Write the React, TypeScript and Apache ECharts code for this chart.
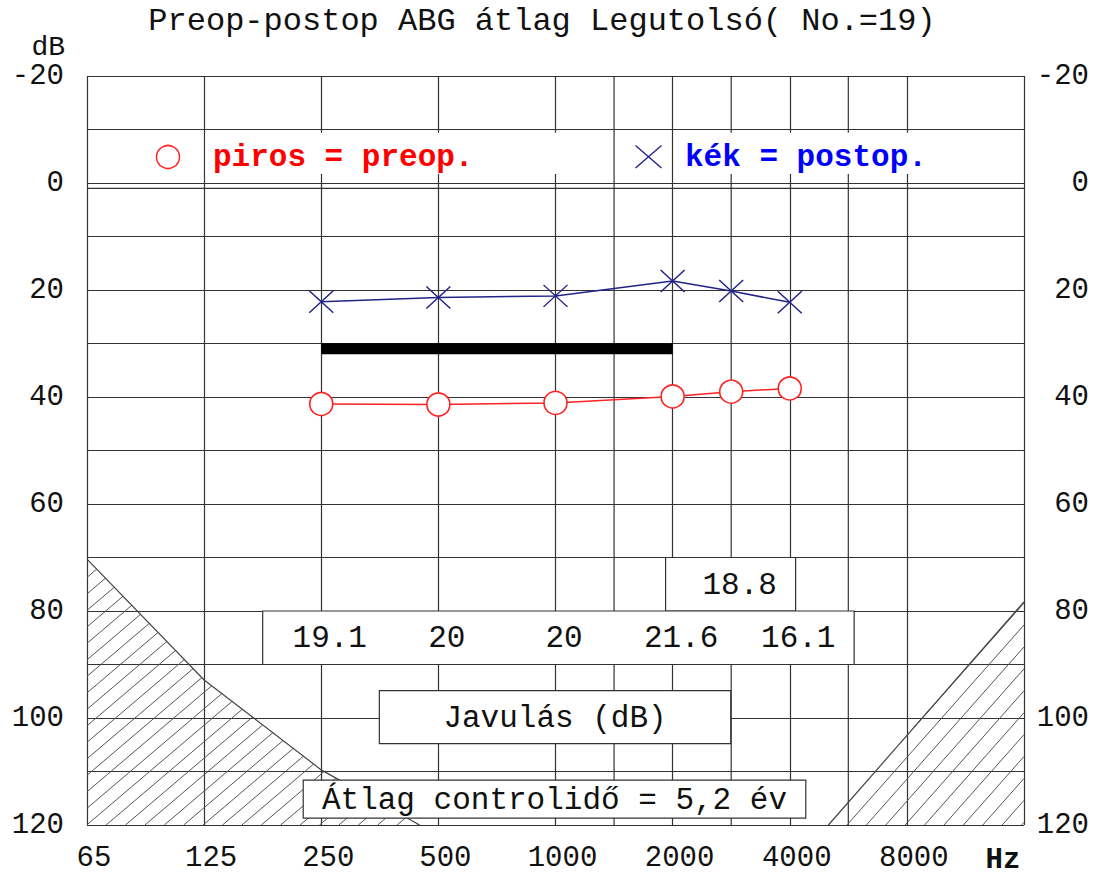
import React, { useEffect, useRef } from "react";
import * as echarts from "echarts";

// ---------- data ----------
const titleText = "Preop-postop ABG átlag Legutolsó( No.=19)";
const freqTickLabels = ["65", "125", "250", "500", "1000", "2000", "4000", "8000", ""];
const testFreqs = [250, 500, 1000, 2000, 3000, 4000];
const preopDb = [41.3, 41.4, 41.1, 39.9, 39.0, 38.4];
const postopDb = [22.2, 21.4, 21.1, 18.3, 20.2, 22.3];
const improvementDb = ["19.1", "20", "20", "21.6", "18.8", "16.1"];
const abgBarFreqs = [250, 2000];
const abgBarDb = 31;
const noteTexts = ["Javulás (dB)", "Átlag controlidő = 5,2 év"];
const legendTexts = ["piros = preop.", "kék = postop."];

// audiogram frequency -> axis position (octave steps, half-octaves in between)
const FREQ_POS: Record<number, number> = {
  65: 0, 125: 1, 250: 2, 500: 3, 1000: 4, 1500: 4.5, 2000: 5, 3000: 5.5,
  4000: 6, 6000: 6.5, 8000: 7, 16000: 8,
};

// ---------- layout / style constants ----------
const FONT = '"Liberation Mono", "DejaVu Sans Mono", monospace';
const GRID_COLOR = "#333";
const RED = "#ff2222";
const NAVY = "#23238a";

const extraLines = [
  [FREQ_POS[1500], -20, FREQ_POS[1500], 120],
  [FREQ_POS[3000], -20, FREQ_POS[3000], 120],
  [FREQ_POS[6000], -20, FREQ_POS[6000], 120],
  [0, 1, 8, 1],
];

const hatchPolys = [
  { pts: [[0, 70.3], [1, 92.9], [2, 109.7], [2.84, 120], [0, 120]], edge: [0, 1, 2, 3], slope: 0.85, x0: 86.7 },
  { pts: [[8, 78.3], [8, 120], [6.33, 120]], edge: [0, 2], slope: 1.13, x0: 847 },
];

const boxDefs = [
  { x1: 4.94, x2: 6.05, y1: 70, y2: 80, text: -1 },
  { x1: 1.5, x2: 6.55, y1: 80, y2: 90, text: -1 },
  { x1: 2.496, x2: 5.496, y1: 94.9, y2: 104.8, text: 0 },
  { x1: 1.846, x2: 6.137, y1: 111.6, y2: 118.7, text: 1 },
];

const legendBands = [
  [1.01, -9.4, 4.35, -1.7],
  [5.01, -9.4, 7.99, -1.7],
];

function hatchSegments(poly: number[][], s: number, step: number, x0: number, yBottom: number) {
  const f = (p: number[]) => p[0] + p[1] / s;
  const vals = poly.map(f);
  const cmin = Math.min(...vals);
  const cmax = Math.max(...vals);
  const phase = x0 + yBottom / s;
  const segs: number[][][] = [];
  let c = phase + Math.ceil((cmin - phase) / step) * step;
  for (; c < cmax; c += step) {
    const pts: number[][] = [];
    for (let i = 0; i < poly.length; i++) {
      const P = poly[i];
      const Q = poly[(i + 1) % poly.length];
      const fp = f(P) - c;
      const fq = f(Q) - c;
      if ((fp < 0 && fq >= 0) || (fp >= 0 && fq < 0)) {
        const t = fp / (fp - fq);
        pts.push([P[0] + t * (Q[0] - P[0]), P[1] + t * (Q[1] - P[1])]);
      }
    }
    pts.sort((a, b) => a[0] - b[0]);
    for (let k = 0; k + 1 < pts.length; k += 2) segs.push([pts[k], pts[k + 1]]);
  }
  return segs;
}

function buildOption(): any {
  const yLabelFmt = (v: number) => (v % 20 === 0 ? String(v) : "");
  return {
    animation: false,
    backgroundColor: "#fff",
    textStyle: { fontFamily: FONT },
    grid: { left: 87, right: 72, top: 76, bottom: 50 },
    xAxis: {
      type: "value",
      min: 0,
      max: 8,
      interval: 1,
      axisLine: { show: false },
      axisTick: { show: false },
      splitLine: { show: true, lineStyle: { color: GRID_COLOR, width: 1.2 } },
      axisLabel: {
        margin: 19,
        fontFamily: FONT,
        fontSize: 29,
        color: "#111",
        padding: [0, 0, 0, 14],
        formatter: (v: number) => freqTickLabels[Math.round(v)] ?? "",
      },
    },
    yAxis: [
      {
        type: "value",
        inverse: true,
        min: -20,
        max: 120,
        interval: 10,
        axisLine: { show: false },
        axisTick: { show: false },
        splitLine: { show: true, lineStyle: { color: GRID_COLOR, width: 1.2 } },
        axisLabel: { margin: 23, fontFamily: FONT, fontSize: 29, color: "#111", formatter: yLabelFmt },
      },
      {
        type: "value",
        position: "right",
        inverse: true,
        min: -20,
        max: 120,
        interval: 10,
        axisLine: { show: false },
        axisTick: { show: false },
        splitLine: { show: false },
        axisLabel: { margin: 65, align: "right", fontFamily: FONT, fontSize: 29, color: "#111", formatter: yLabelFmt },
      },
    ],
    graphic: [
      {
        type: "text", x: 542, y: 21, z: 100,
        style: { text: titleText, align: "center", verticalAlign: "middle", fontFamily: FONT, fontSize: 32, fill: "#111" },
      },
      {
        type: "text", x: 65, y: 47, z: 100,
        style: { text: "dB", align: "right", verticalAlign: "middle", fontFamily: FONT, fontSize: 28, fill: "#111" },
      },
      {
        type: "text", x: 1003, y: 860, z: 100,
        style: { text: "Hz", align: "center", verticalAlign: "middle", fontFamily: FONT, fontSize: 29, fontWeight: "bold", fill: "#111" },
      },
      {
        type: "circle", z: 100, shape: { cx: 168, cy: 157, r: 11.5 },
        style: { fill: "#fff", stroke: RED, lineWidth: 1.5 },
      },
      {
        type: "text", x: 213, y: 157, z: 100,
        style: { text: legendTexts[0], align: "left", verticalAlign: "middle", fontFamily: FONT, fontSize: 31, fontWeight: "bold", fill: "#ff0000" },
      },
      {
        type: "line", z: 100, shape: { x1: 635.5, y1: 145.5, x2: 661.5, y2: 168 },
        style: { stroke: NAVY, lineWidth: 1.4 },
      },
      {
        type: "line", z: 100, shape: { x1: 635.5, y1: 168, x2: 661.5, y2: 145.5 },
        style: { stroke: NAVY, lineWidth: 1.4 },
      },
      {
        type: "text", x: 685, y: 157, z: 100,
        style: { text: legendTexts[1], align: "left", verticalAlign: "middle", fontFamily: FONT, fontSize: 31, fontWeight: "bold", fill: "#0000ff" },
      },
    ],
    series: [
      {
        name: "gridExtras",
        type: "custom",
        z: 1,
        silent: true,
        data: extraLines.map((l) => [l[0], l[1]]),
        renderItem: (params: any, api: any) => {
          const l = extraLines[params.dataIndex];
          const a = api.coord([l[0], l[1]]);
          const b = api.coord([l[2], l[3]]);
          return {
            type: "line",
            shape: { x1: a[0], y1: a[1], x2: b[0], y2: b[1] },
            style: { stroke: GRID_COLOR, lineWidth: 1.2 },
          };
        },
      },
      {
        name: "hatch",
        type: "custom",
        z: 2,
        silent: true,
        data: hatchPolys.map((h) => h.pts[0]),
        renderItem: (params: any, api: any) => {
          const h = hatchPolys[params.dataIndex];
          const px = h.pts.map((p) => api.coord(p));
          const yBottom = api.coord([0, 120])[1];
          const segs = hatchSegments(px, h.slope, 19.4, h.x0, yBottom);
          const children: any[] = segs.map((s) => ({
            type: "line",
            shape: { x1: s[0][0], y1: s[0][1], x2: s[1][0], y2: s[1][1] },
            style: { stroke: "#555", lineWidth: 1 },
          }));
          children.push({
            type: "polyline",
            shape: { points: h.edge.map((i) => px[i]) },
            style: { stroke: "#444", lineWidth: 1.2, fill: null },
          });
          return { type: "group", children };
        },
      },
      {
        name: "legendBands",
        type: "custom",
        z: 3,
        silent: true,
        data: legendBands.map((b) => [b[0], b[1]]),
        renderItem: (params: any, api: any) => {
          const b = legendBands[params.dataIndex];
          const p1 = api.coord([b[0], b[1]]);
          const p2 = api.coord([b[2], b[3]]);
          return {
            type: "rect",
            shape: { x: p1[0], y: Math.min(p1[1], p2[1]), width: p2[0] - p1[0], height: Math.abs(p2[1] - p1[1]) },
            style: { fill: "#fff" },
          };
        },
      },
      {
        name: "boxes",
        type: "custom",
        z: 4,
        silent: true,
        data: boxDefs.map((b) => [b.x1, b.y1]),
        renderItem: (params: any, api: any) => {
          const b = boxDefs[params.dataIndex];
          const p1 = api.coord([b.x1, b.y1]);
          const p2 = api.coord([b.x2, b.y2]);
          const x = Math.min(p1[0], p2[0]);
          const y = Math.min(p1[1], p2[1]);
          const w = Math.abs(p2[0] - p1[0]);
          const hh = Math.abs(p2[1] - p1[1]);
          const children: any[] = [
            { type: "rect", shape: { x, y, width: w, height: hh }, style: { fill: "#fff", stroke: GRID_COLOR, lineWidth: 1.2 } },
          ];
          if (b.text >= 0) {
            children.push({
              type: "text",
              style: {
                text: noteTexts[b.text], x: x + w / 2, y: y + hh / 2 + 1,
                align: "center", verticalAlign: "middle", fontFamily: FONT, fontSize: 31, fill: "#111",
              },
            });
          }
          return { type: "group", children };
        },
      },
      {
        name: "Javulás",
        type: "custom",
        z: 5,
        silent: true,
        data: testFreqs.map((f) => [FREQ_POS[f], Number.isInteger(FREQ_POS[f]) ? 85 : 75]),
        renderItem: (params: any, api: any) => {
          const p = api.coord([api.value(0), api.value(1)]);
          return {
            type: "text",
            style: {
              text: improvementDb[params.dataIndex], x: p[0] + 8.5, y: p[1] + 1,
              align: "center", verticalAlign: "middle", fontFamily: FONT, fontSize: 31, fill: "#111",
            },
          };
        },
      },
      {
        name: "ABG",
        type: "line",
        z: 6,
        silent: true,
        symbol: "none",
        data: abgBarFreqs.map((f) => [FREQ_POS[f], abgBarDb]),
        lineStyle: { color: "#000", width: 11, cap: "butt" },
      },
      {
        name: "postop",
        type: "line",
        z: 7,
        silent: true,
        data: testFreqs.map((f, i) => [FREQ_POS[f], postopDb[i]]),
        symbol: "path://M0,0L24,22M24,0L0,22",
        symbolSize: [24, 22],
        itemStyle: { color: "none", borderColor: NAVY, borderWidth: 1.4 },
        lineStyle: { color: NAVY, width: 1.5 },
      },
      {
        name: "preop",
        type: "line",
        z: 7,
        silent: true,
        data: testFreqs.map((f, i) => [FREQ_POS[f], preopDb[i]]),
        symbol: "circle",
        symbolSize: 23,
        itemStyle: { color: "#fff", borderColor: RED, borderWidth: 1.6 },
        lineStyle: { color: RED, width: 1.5 },
      },
    ],
  };
}

export default function App() {
  const ref = useRef<HTMLDivElement>(null);
  useEffect(() => {
    if (!ref.current) return;
    const chart = echarts.init(ref.current, null, { renderer: "svg" });
    chart.setOption(buildOption());
    return () => chart.dispose();
  }, []);
  return (
    <div
      ref={ref}
      style={{ position: "fixed", left: 0, top: 0, width: 1096, height: 875, background: "#fff" }}
    />
  );
}
